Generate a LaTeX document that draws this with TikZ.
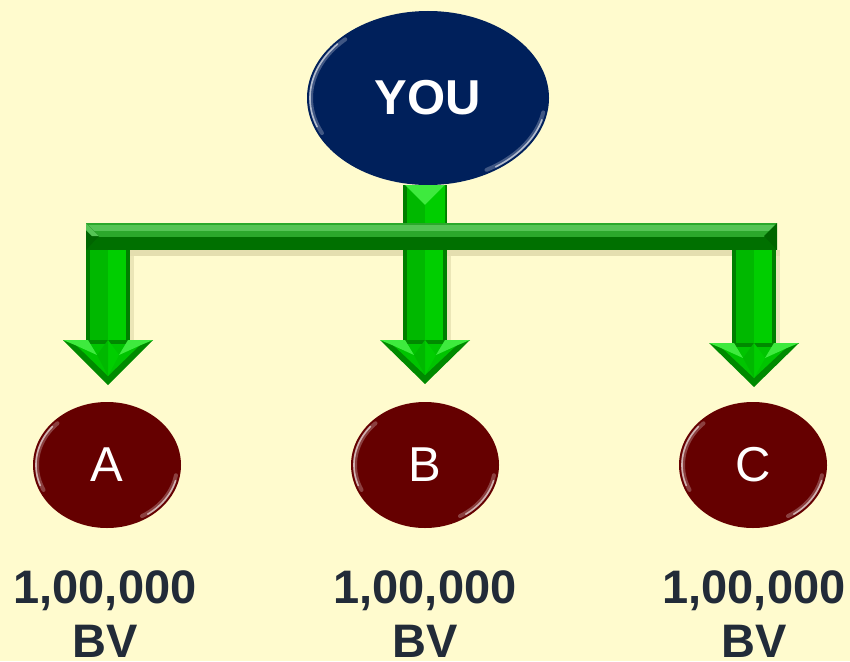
\documentclass[tikz,border=0pt]{standalone}
\usepackage{fontspec}
\setmainfont{Liberation Sans}
\usetikzlibrary{shapes.geometric}
\definecolor{bgc}{HTML}{FFFBCE}
\definecolor{navy}{HTML}{00205B}
\definecolor{maroonc}{HTML}{650000}
\definecolor{gedge}{HTML}{007E00}
\definecolor{gleft}{HTML}{00B800}
\definecolor{gright}{HTML}{00CE00}
\definecolor{gmid}{HTML}{00C400}
\definecolor{glight}{HTML}{3EEA3E}
\definecolor{gdark}{HTML}{008A00}
\definecolor{bartop}{HTML}{55C455}
\definecolor{barmid}{HTML}{2BA82B}
\definecolor{barbot}{HTML}{007000}
\definecolor{shad}{HTML}{D9D3A2}
\definecolor{labc}{HTML}{222B38}
\tikzset{
  topell/.style={ellipse, fill=navy, minimum width=242pt, minimum height=174pt, inner sep=0pt,
    text=white, font=\fontsize{49}{49}\selectfont\bfseries},
  botell/.style={ellipse, fill=maroonc, minimum width=148pt, minimum height=126pt, inner sep=0pt,
    text=white, font=\fontsize{49}{49}\selectfont},
  bvlabel/.style={text=labc, font=\fontsize{47}{47}\selectfont\bfseries, anchor=base, inner sep=0pt},
  glosswide/.style={white, opacity=0.25, line width=4pt, line cap=round, samples=40, variable=\t},
  gloss/.style={white, opacity=0.6, line width=1.6pt, line cap=round, samples=40, variable=\t}
}
% shaft: cx, ytop, ybottom
\newcommand\gshaft[3]{%
  \fill[gedge] (#1-22,#2) rectangle (#1+22,#3);
  \fill[gleft] (#1-18,#2) rectangle (#1,#3);
  \fill[gright] (#1,#2) rectangle (#1+18,#3);
}
% head: cx, yhead, ytip
\newcommand\ghead[3]{%
  \fill[gdark] (#1-45,#2) -- (#1+45,#2) -- (#1,#3) -- cycle;
  \fill[gmid] (#1-33,#2+4) -- (#1+33,#2+4) -- (#1,#3-9) -- cycle;
  \fill[glight] (#1-45,#2) -- (#1-20,#2) -- (#1-11,#2+15) -- (#1-33,#2+5) -- cycle;
  \fill[glight] (#1+45,#2) -- (#1+20,#2) -- (#1+11,#2+15) -- (#1+33,#2+5) -- cycle;
  \fill[gright] (#1,#2) -- (#1+11,#2+15) -- (#1,#3-9) -- cycle;
  \fill[gleft] (#1,#2) -- (#1-11,#2+15) -- (#1,#3-9) -- cycle;
}
\newcommand\glossy[4]{% cx cy rx ry
  \draw[glosswide, domain=135:205] plot ({#1+(#3-4)*cos(\t)},{#2-(#4-4)*sin(\t)});
  \draw[gloss, domain=140:200] plot ({#1+(#3-3)*cos(\t)},{#2-(#4-3)*sin(\t)});
  \draw[glosswide, domain=300:350] plot ({#1+(#3-4)*cos(\t)},{#2-(#4-4)*sin(\t)});
  \draw[gloss, domain=305:345] plot ({#1+(#3-3)*cos(\t)},{#2-(#4-3)*sin(\t)});
}
\begin{document}
\begin{tikzpicture}[x=1pt,y=-1pt]
\fill[bgc] (0,0) rectangle (850,661);
\useasboundingbox (0,0) rectangle (850,661);

% nodes
\node[topell] (you) at (428,98) {YOU};
\node[botell] (a) at (107,465) {A};
\node[botell] (b) at (425,465) {B};
\node[botell] (c) at (753,465) {C};
\glossy{428}{98}{121}{87}
\glossy{107}{465}{74}{63}
\glossy{425}{465}{74}{63}
\glossy{753}{465}{74}{63}

% green connector structure
\coordinate (barL) at (86,223);
\coordinate (barR) at (777,250);
% shadows
\fill[shad, opacity=0.7] (89,250) rectangle (780,256);
\fill[shad, opacity=0.5] (130,256) rectangle (134,340);
\fill[shad, opacity=0.5] (447,256) rectangle (451,340);
\fill[shad, opacity=0.5] (776,256) rectangle (780,343);

% stem from YOU to bar
\gshaft{425}{185}{223}
\fill[glight] (405,185) -- (445,185) -- (425,205) -- cycle;
\fill[gright] (425,205) -- (445,185) -- (445,223) -- (425,223) -- cycle;

% bar
\fill[barbot] (barL) rectangle (barR);
\fill[barmid] (86,223) rectangle (777,237);
\fill[bartop] (86,225) rectangle (777,231);
\fill[gedge!80!black] (86,223) -- (99,236) -- (86,250) -- cycle;
\fill[bartop] (86,223) -- (99,236) -- (92,236) -- (86,230) -- cycle;
\fill[gedge!80!black] (777,223) -- (764,236) -- (777,250) -- cycle;

% arrows down
\gshaft{108}{250}{340}
\ghead{108}{340}{385}
\gshaft{425}{250}{340}
\ghead{425}{340}{384}
\gshaft{754}{250}{343}
\ghead{754}{343}{387}

% labels
\node[bvlabel] (la1) at (105,603) {1,00,000};
\node[bvlabel] (la2) at (105,657) {BV};
\node[bvlabel] (lb1) at (425,603) {1,00,000};
\node[bvlabel] (lb2) at (425,657) {BV};
\node[bvlabel] (lc1) at (754,603) {1,00,000};
\node[bvlabel] (lc2) at (754,657) {BV};
\end{tikzpicture}
\end{document}
